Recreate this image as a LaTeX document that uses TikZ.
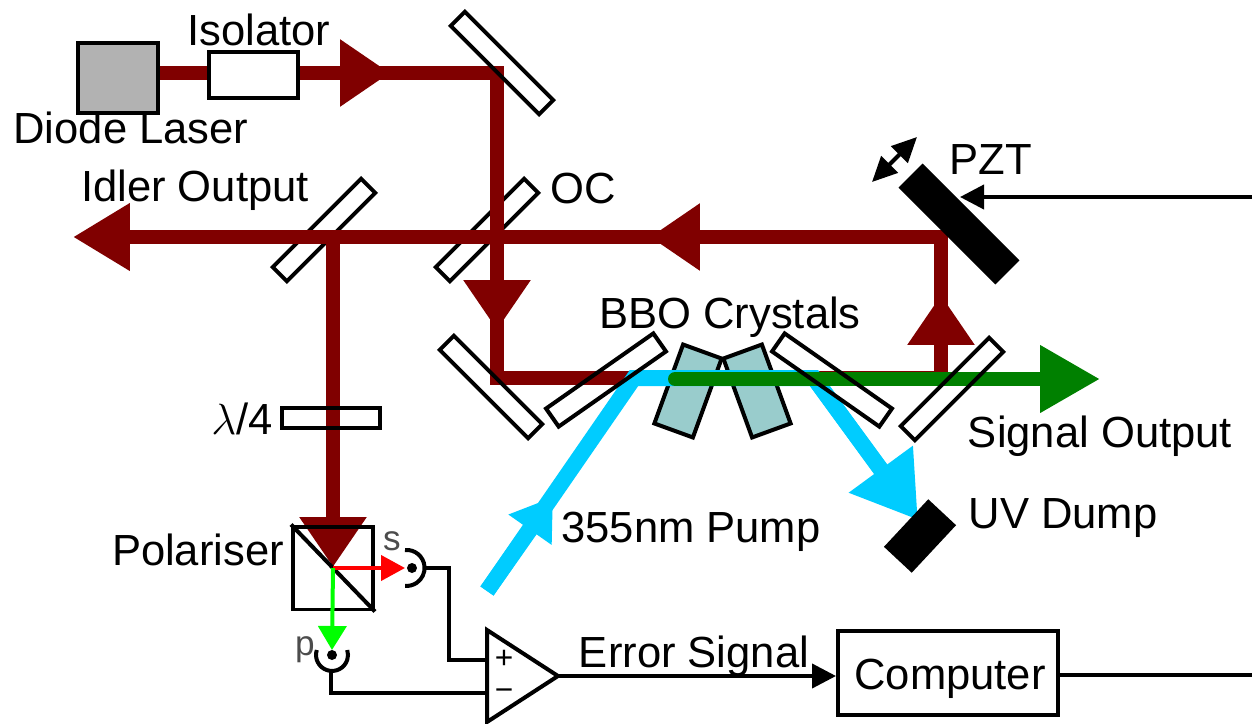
\documentclass[tikz,border=0pt]{standalone}
\usepackage{amsmath}
\usepackage{fontspec}
\setmainfont{Liberation Sans}
\usetikzlibrary{arrows.meta}
\definecolor{beamred}{RGB}{128,0,0}
\definecolor{beamblue}{RGB}{0,204,255}
\definecolor{beamgreen}{RGB}{0,128,0}
\definecolor{crystalfill}{RGB}{153,204,204}
\definecolor{laserfill}{RGB}{178,178,178}
\begin{document}
\begin{tikzpicture}[x=0.02cm,y=0.02cm,
  every node/.style={inner sep=0pt,font=\fontsize{24.8}{28}\selectfont},
  redbeam/.style={draw=beamred,line width=0.28cm},
  redhead/.style={redbeam,-{Triangle[length=1cm,width=1.28cm]}},
  bluebeam/.style={draw=beamblue,line width=0.32cm,miter limit=10},
  wire/.style={draw=black,line width=0.08cm},
  wirehead/.style={wire,-{Triangle[length=0.48cm,width=0.48cm]}},
  mirror/.style={draw=black,line width=0.08cm,rectangle,minimum width=2.5cm,minimum height=0.4cm},
  curvedmirror/.style={mirror,minimum width=2.62cm,minimum height=0.44cm},
  crystal/.style={draw=black,line width=0.08cm,fill=crystalfill,rectangle,minimum width=0.82cm,minimum height=1.68cm},
  blackblock/.style={fill=black,rectangle},
  box/.style={draw=black,line width=0.08cm,rectangle,fill=white},
  smalllabel/.style={font=\fontsize{20}{22}\selectfont,text=black!70}]
\useasboundingbox (0,0) rectangle (1252,-724);
\coordinate (turntop) at (497,-73);
\coordinate (turnleft) at (497,-378);
\coordinate (turnpzt) at (941,-237);
\coordinate (turnout) at (941,-378);
\coordinate (idlersplit) at (333,-237);
\coordinate (redhead1) at (390,-73);
\coordinate (redhead2) at (497,-330);
\coordinate (redhead3) at (941,-295);
\coordinate (redhead4) at (650,-237);
\coordinate (redhead5) at (73,-237);
\coordinate (redshaft5) at (125,-237);
\coordinate (redhead6) at (333,-567);
\coordinate (pumpstart) at (487,-591);
\coordinate (pumphead) at (553,-497);
\coordinate (pumpleft) at (634,-378);
\coordinate (pumpright) at (814,-378);
\coordinate (dumpshaft) at (884,-474);
\coordinate (dumphead) at (918,-520);
\coordinate (greenstart) at (675,-379);
\coordinate (greenshaft) at (1045,-379);
\coordinate (greenhead) at (1100,-379);
\coordinate (split) at (333,-568);
\coordinate (shead) at (405,-568);
\coordinate (phead) at (332,-650);
\coordinate (sbend1) at (449,-568);
\coordinate (sbend2) at (449,-660);
\coordinate (pbend) at (331,-693);
\coordinate (pztend) at (1252,-197);
\coordinate (pzttip) at (960,-197);
\coordinate (computerend) at (1252,-675);
\coordinate (movea) at (872,-182);
\coordinate (moveb) at (917,-137);
\node [crystal,rotate=-20] (crystala) at (688,-391) {};
\node [crystal,rotate=20] (crystalb) at (757,-391) {};
\node [mirror,rotate=45] (oc) at (487,-230) {};
\node [mirror,rotate=45] (mirroridler) at (324,-230) {};
\node [box,fill=laserfill,minimum width=1.6cm,minimum height=1.4cm] (laser) at (118,-78) {};
\node [box,minimum width=1.78cm,minimum height=0.92cm] (isolator) at (253.5,-75) {};
\draw [redbeam] (laser.east |- turntop) -- (isolator.west |- turntop);
\draw [redbeam] (isolator.east |- turntop) -- (turntop) -- (turnleft) -- (turnout) -- (turnpzt) -- (redshaft5);
\draw [redhead] (isolator.east |- turntop) -- (redhead1);
\draw [redhead] (turntop) -- (redhead2);
\draw [redhead] (turnout) -- (redhead3);
\draw [redhead] (turnpzt) -- (redhead4);
\draw [redbeam,-{Triangle[length=1.14cm,width=1.28cm]}] (redhead4) -- (redhead5);
\draw [redhead] (idlersplit) -- (redhead6);
\draw [bluebeam] (pumpstart) -- (pumpleft) -- (pumpright) -- (dumpshaft);
\draw [bluebeam,-{Triangle[length=1.26cm,width=1.5cm]}] (pumpright) -- (dumphead);
\draw [bluebeam,-{Triangle[length=0.8cm,width=1.0cm]}] (pumpstart) -- (pumphead);
\draw [redbeam,draw=beamgreen,line cap=round] (greenstart) -- (greenshaft);
\draw [redbeam,draw=beamgreen,-{Triangle[length=1.2cm,width=1.28cm]}] (greenstart) -- (greenhead);
\node [mirror,rotate=-45] (mirrortop) at (502,-63) {};
\node [mirror,rotate=-45] (mirrorleft) at (491,-387) {};
\node [mirror,rotate=45] (mirrorout) at (952,-389) {};
\node [curvedmirror,rotate=35] (curveda) at (606,-380) {};
\node [curvedmirror,rotate=-35] (curvedb) at (832,-380) {};
\node [box,fill=none,minimum width=1.96cm,minimum height=0.4cm] (waveplate) at (331,-418) {};
\node [blackblock,rotate=-45,minimum width=2.74cm,minimum height=0.68cm] (mirrorpzt) at (959,-224) {};
\node [blackblock,rotate=47,minimum width=1.3cm,minimum height=0.76cm] (uvdump) at (920,-536) {};
\node [box,fill=none,minimum width=1.6cm,minimum height=1.66cm] (polariser) at (333,-568) {};
\draw [wire] (polariser.north west) -- (polariser.south east);
\draw [wire,draw=red,-{Triangle[length=0.48cm,width=0.5cm]}] (split) -- (shead);
\draw [wire,draw=green,-{Triangle[length=0.48cm,width=0.56cm]}] (split) -- (phead);
\node [circle,fill=black,minimum size=0.2cm] (detectors) at (412,-568) {};
\node [circle,fill=black,minimum size=0.2cm] (detectorp) at (332,-655) {};
\draw [wire] (405,-550) arc (95:-95:18);
\draw [wire] (316.8,-650) arc (162:378:16);
\coordinate (detsout) at (424,-568);
\coordinate (detpout) at (331,-671);
\coordinate (oppa) at (487,-630);
\coordinate (oppb) at (487,-722);
\coordinate (oppc) at (558,-676);
\draw [wire,line join=miter,fill=white] (oppa) -- (oppc) -- (oppb) -- cycle;
\coordinate (opplus) at (487,-660);
\coordinate (opminus) at (487,-693);
\draw [wire] (detsout) -- (sbend1) -- (sbend2) -- (opplus);
\draw [wire] (detpout) -- (pbend) -- (opminus);
\node [font=\fontsize{18}{20}\selectfont] (plus) at (504,-659) {+};
\node [font=\fontsize{18}{20}\selectfont] (minus) at (504,-695) {\textminus};
\node [box,minimum width=4.4cm,minimum height=1.68cm] (computer) at (948,-673) {};
\draw [wirehead] (oppc) -- (computer.west |- oppc);
\draw [wire] (computer.east |- computerend) -- (computerend);
\draw [wirehead] (pztend) -- (pzttip);
\draw [wire,{Triangle[length=0.5cm,width=0.46cm]}-{Triangle[length=0.5cm,width=0.46cm]}] (movea) -- (moveb);
\node (labelcomputer) at (950,-679) {Computer};
\node (labelisolator) at (259,-30) {Isolator};
\node (labellaser) at (131,-128) {Diode Laser};
\node (labelidler) at (195,-190) {Idler Output};
\node (labeloc) at (583,-188) {OC};
\node (labelpzt) at (991,-160) {PZT};
\node (labelbbo) at (730,-317) {BBO Crystals};
\node (labelsignal) at (1100,-436) {Signal Output};
\node (labelpump) at (691,-532) {355nm Pump};
\node (labeldump) at (1063,-518) {UV Dump};
\node (labelwave) at (242,-419) {$\lambda$/4};
\node (labelpol) at (198,-550) {Polariser};
\node (labelerror) at (694,-656) {Error Signal};
\node [smalllabel] (labels) at (392,-541) {s};
\node [smalllabel] (labelp) at (305,-650) {p};
\end{tikzpicture}
\end{document}
